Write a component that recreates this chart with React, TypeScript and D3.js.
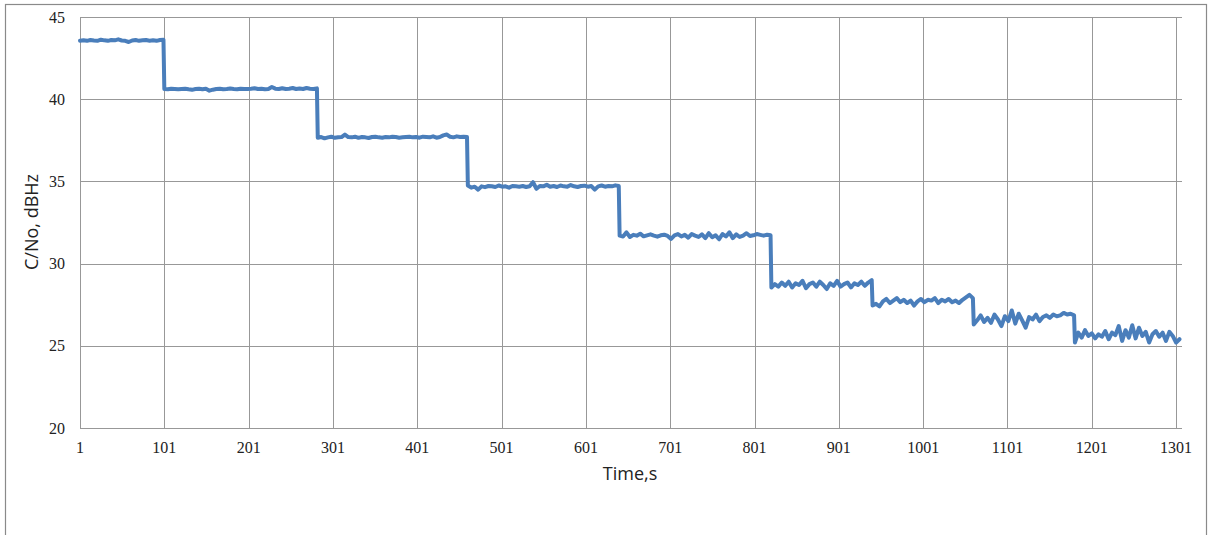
import React, { useEffect, useRef } from 'react';
import * as d3 from 'd3';

// C/No readings (dBHz), one small list per attenuation step
const seg1 = [43.55, 43.58, 43.55, 43.6, 43.57, 43.55, 43.62, 43.58, 43.55, 43.6, 43.58, 43.64, 43.57, 43.55, 43.48, 43.57, 43.6, 43.55, 43.58, 43.6, 43.56, 43.58, 43.55, 43.6, 43.62];
const seg2 = [40.62, 40.6, 40.64, 40.62, 40.6, 40.62, 40.64, 40.6, 40.57, 40.62, 40.64, 40.6, 40.64, 40.52, 40.58, 40.62, 40.64, 40.6, 40.62, 40.65, 40.62, 40.6, 40.64, 40.62, 40.62, 40.64, 40.67, 40.62, 40.64, 40.6, 40.62, 40.74, 40.64, 40.62, 40.67, 40.62, 40.64, 40.68, 40.62, 40.65, 40.62, 40.68, 40.64, 40.62, 40.66];
const seg3 = [37.65, 37.7, 37.62, 37.68, 37.72, 37.65, 37.68, 37.7, 37.85, 37.7, 37.68, 37.72, 37.65, 37.7, 37.68, 37.64, 37.7, 37.72, 37.68, 37.66, 37.7, 37.68, 37.72, 37.7, 37.66, 37.68, 37.7, 37.72, 37.68, 37.7, 37.66, 37.72, 37.7, 37.68, 37.74, 37.66, 37.7, 37.8, 37.85, 37.72, 37.68, 37.74, 37.7, 37.72, 37.7];
const seg4 = [34.75, 34.62, 34.68, 34.5, 34.7, 34.65, 34.72, 34.7, 34.66, 34.75, 34.68, 34.7, 34.62, 34.72, 34.7, 34.68, 34.72, 34.66, 34.7, 34.95, 34.55, 34.72, 34.7, 34.8, 34.68, 34.72, 34.66, 34.75, 34.7, 34.68, 34.78, 34.7, 34.66, 34.72, 34.74, 34.68, 34.72, 34.5, 34.7, 34.75, 34.68, 34.72, 34.7, 34.76, 34.72];
const seg5 = [31.7, 31.65, 31.9, 31.62, 31.75, 31.7, 31.82, 31.66, 31.72, 31.78, 31.7, 31.64, 31.72, 31.76, 31.68, 31.5, 31.72, 31.8, 31.65, 31.75, 31.58, 31.8, 31.7, 31.62, 31.78, 31.55, 31.85, 31.6, 31.72, 31.48, 31.8, 31.65, 31.9, 31.55, 31.78, 31.62, 31.7, 31.85, 31.68, 31.72, 31.8, 31.75, 31.7, 31.76, 31.72];
const seg6 = [28.55, 28.75, 28.6, 28.85, 28.65, 28.9, 28.55, 28.8, 28.7, 28.95, 28.5, 28.75, 28.85, 28.6, 28.9, 28.7, 28.45, 28.8, 28.65, 28.95, 28.6, 28.75, 28.85, 28.55, 28.8, 28.7, 28.9, 28.65, 28.85, 29.0];
const seg7 = [27.45, 27.55, 27.4, 27.7, 27.85, 27.6, 27.75, 27.9, 27.65, 27.8, 27.6, 27.75, 27.45, 27.7, 27.85, 27.65, 27.8, 27.75, 27.9, 27.6, 27.8, 27.7, 27.85, 27.65, 27.75, 27.6, 27.8, 27.95, 28.1, 27.9];
const seg8 = [26.3, 26.55, 26.85, 26.45, 26.7, 26.4, 26.9, 26.6, 26.2, 26.8, 26.5, 27.15, 26.35, 26.95, 26.55, 26.1, 26.75, 26.6, 26.9, 26.5, 26.75, 26.85, 26.7, 26.9, 26.8, 26.85, 27.0, 26.9, 26.95, 26.85];
const seg9 = [25.2, 25.8, 25.5, 25.95, 25.6, 25.75, 25.45, 25.7, 25.55, 25.9, 25.4, 25.8, 25.65, 26.2, 25.3, 25.95, 25.5, 26.25, 25.45, 26.1, 25.6, 25.85, 25.2, 25.7, 25.9, 25.55, 25.8, 25.3, 25.85, 25.6, 25.2, 25.4];

const segments = [seg1, seg2, seg3, seg4, seg5, seg6, seg7, seg8, seg9];
// time (s) where each step starts, plus the last sample time
const stepStarts = [1, 101, 283, 461, 641, 821, 941, 1061, 1181];
const lastTime = 1305;

const xTicks = [1, 101, 201, 301, 401, 501, 601, 701, 801, 901, 1001, 1101, 1201, 1301];
const yTicks = [20, 25, 30, 35, 40, 45];

const W = 1212;
const H = 535;

export default function App() {
  const ref = useRef<SVGSVGElement>(null);

  useEffect(() => {
    const svg = d3.select(ref.current);
    svg.selectAll('*').remove();

    const left = 80, right = 1182, top = 17, bottom = 428;
    const x = d3.scaleLinear().domain([1, 1308]).range([left, right]);
    const y = d3.scaleLinear().domain([20, 45]).range([bottom, top]);

    // outer chart frame
    svg.append('rect')
      .attr('x', 5.5).attr('y', 4.5)
      .attr('width', 1201).attr('height', 540)
      .attr('fill', '#fff')
      .attr('stroke', '#8a8a8a')
      .attr('stroke-width', 1.2);

    // grid
    svg.append('g')
      .selectAll('line')
      .data(yTicks)
      .enter()
      .append('line')
      .attr('x1', left).attr('x2', right)
      .attr('y1', d => Math.round(y(d)) + 0.5)
      .attr('y2', d => Math.round(y(d)) + 0.5)
      .attr('stroke', '#989898');
    svg.append('g')
      .selectAll('line')
      .data(xTicks)
      .enter()
      .append('line')
      .attr('y1', top).attr('y2', bottom)
      .attr('x1', d => Math.round(x(d)) + 0.5)
      .attr('x2', d => Math.round(x(d)) + 0.5)
      .attr('stroke', '#989898');

    // tick labels
    svg.append('g')
      .selectAll('text')
      .data(yTicks)
      .enter()
      .append('text')
      .attr('x', 65)
      .attr('y', d => y(d) + 5.5)
      .attr('text-anchor', 'end')
      .attr('font-family', '"Liberation Serif", serif')
      .attr('font-size', 16)
      .attr('fill', '#222')
      .text(d => d);
    svg.append('g')
      .selectAll('text')
      .data(xTicks)
      .enter()
      .append('text')
      .attr('x', d => x(d))
      .attr('y', 453)
      .attr('text-anchor', 'middle')
      .attr('font-family', '"Liberation Serif", serif')
      .attr('font-size', 16)
      .attr('fill', '#222')
      .text(d => d);

    // axis titles
    svg.append('text')
      .attr('x', 630).attr('y', 480)
      .attr('text-anchor', 'middle')
      .attr('font-family', '"Open Sans", sans-serif')
      .attr('font-size', 18)
      .attr('fill', '#222')
      .text('Time,s');
    svg.append('text')
      .attr('transform', 'translate(38,222) rotate(-90)')
      .attr('text-anchor', 'middle')
      .attr('font-family', '"Open Sans", sans-serif')
      .attr('font-size', 18)
      .attr('fill', '#222')
      .text('C/No, dBHz');

    // series points: samples spread over each step
    const points: [number, number][] = [];
    segments.forEach((seg, k) => {
      const t0 = stepStarts[k];
      const t1 = k < stepStarts.length - 1 ? stepStarts[k + 1] - 1 : lastTime;
      seg.forEach((v, j) => {
        points.push([t0 + (j * (t1 - t0)) / (seg.length - 1), v]);
      });
    });

    const line = d3.line<[number, number]>()
      .x(d => x(d[0]))
      .y(d => y(d[1]));

    svg.append('path')
      .attr('d', line(points))
      .attr('fill', 'none')
      .attr('stroke', '#4a7ebb')
      .attr('stroke-width', 4)
      .attr('stroke-linejoin', 'round')
      .attr('stroke-linecap', 'round');
  }, []);

  return (
    <svg
      ref={ref}
      width={W}
      height={H}
      style={{ position: 'absolute', left: 0, top: 0 }}
    />
  );
}
